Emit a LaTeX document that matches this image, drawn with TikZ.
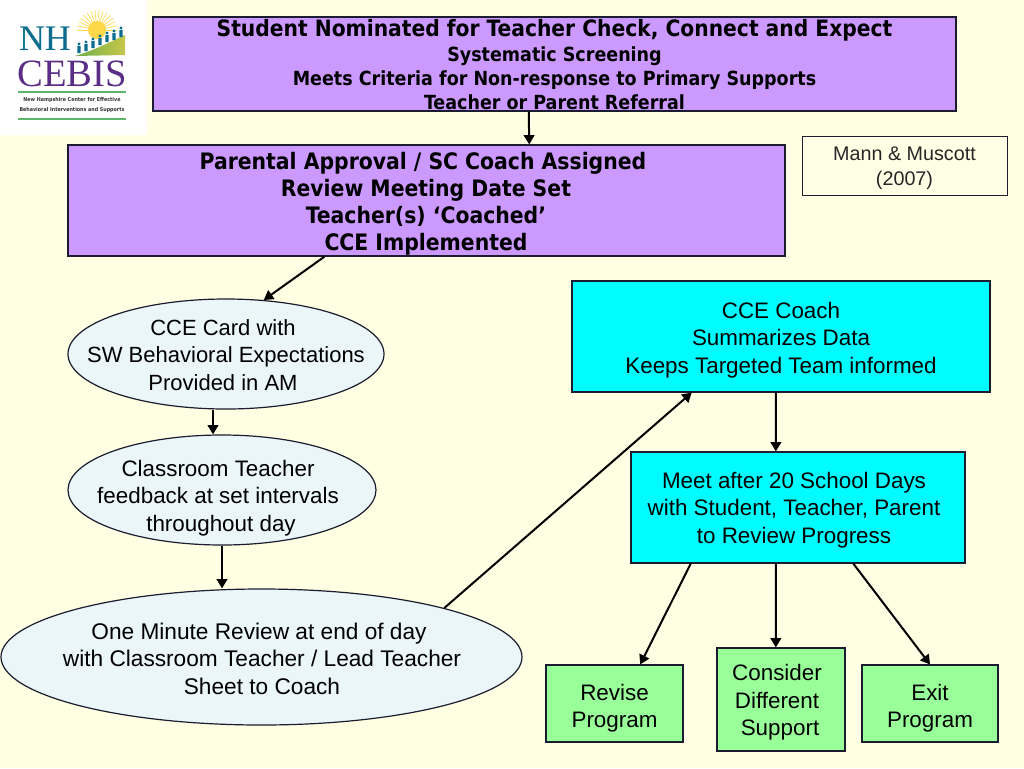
\documentclass[tikz,border=0pt]{standalone}
\usepackage{fontspec}
\setmainfont{Liberation Sans}
\newfontfamily\boldface{DejaVu Sans Condensed}
\newfontfamily\logoserif{Liberation Serif}
\usetikzlibrary{calc,shapes.geometric,arrows.meta}
\definecolor{bgc}{HTML}{FFFFE3}
\definecolor{purp}{HTML}{CC99FF}
\definecolor{cyanb}{HTML}{00FCFF}
\definecolor{greenb}{HTML}{99FF99}
\definecolor{ellc}{HTML}{EAF6F8}
\definecolor{edgec}{HTML}{1C1C30}
\definecolor{logoblue}{HTML}{0B6C8E}
\definecolor{logopurple}{HTML}{5A2D86}
\definecolor{logogreen}{HTML}{5DB46A}
\definecolor{sunc}{HTML}{FFD84A}
\definecolor{hillc}{HTML}{6FAE4A}
\newcommand{\padsp}{\hspace*{4.5pt}}
\tikzset{
  x=0.75pt,y=-0.75pt,
  bx/.style args={#1/#2}{draw=edgec,line width=0.9pt,rectangle,inner sep=0pt,minimum width=#1*0.75pt,minimum height=#2*0.75pt},
  el/.style args={#1/#2}{draw=edgec,line width=0.9pt,ellipse,inner sep=0pt,fill=ellc,minimum width=#1*0.75pt,minimum height=#2*0.75pt},
  body/.style={font=\fontsize{16.8}{20.6}\selectfont,align=center,inner sep=0pt,text=black},
  head/.style={font=\boldface\bfseries\fontsize{17}{20.3}\selectfont,align=center,inner sep=0pt,text=black},
  subh/.style={font=\boldface\bfseries\fontsize{14.6}{18}\selectfont,align=center,inner sep=0pt,text=black},
  arr/.style={draw=black,line width=1.5pt,-{Triangle[length=7pt,width=8pt]}},
}
\begin{document}
\begin{tikzpicture}
\useasboundingbox (0,0) rectangle (1024,768);
\fill[bgc] (0,0) rectangle (1024,768);
% logo
\fill[white] (0,0) rectangle (147,135);
\foreach \a in {0,12,...,180}{\draw[sunc,line width=0.5pt] (97,30) -- ++({\a}:-20);}
\fill[sunc] (97,30) circle (9);
\shade[left color=hillc,right color=hillc!40!sunc] (75,56) .. controls (95,50) and (110,42) .. (125,35) -- (125,55) -- cycle;
\foreach \px/\py in {79/44,86/42,93/39,100/36,107/33,114/31,121/28}{\fill[logoblue] (\px,\py) circle (1.7) (\px-1.6,\py+2) rectangle (\px+1.6,\py+9);}
\node[text=logoblue,font=\logoserif\fontsize{27}{27}\selectfont,inner sep=0pt] (logoNH) at (45,39) {NH};
\node[text=logopurple,font=\logoserif\fontsize{29}{29}\selectfont,inner sep=0pt] (logoCEBIS) at (72,74) {CEBIS};
\fill[logogreen] (18,90.5) rectangle (126,92.5);
\node[font=\boldface\bfseries\fontsize{4}{7.5}\selectfont,align=center,inner sep=0pt,text=black!80] (logoT) at (72,105) {New Hampshire Center for Effective\\Behavioral Interventions and Supports};
\fill[logogreen] (18,117.5) rectangle (126,119.5);
% boxes
\node[bx=803/94,fill=purp] (b1) at (554.5,64) {};
\node[head,font=\boldface\bfseries\fontsize{16.9}{20}\selectfont] (b1a) at (554.5,30) {Student Nominated for Teacher Check, Connect and Expect};
\node[subh] (b1b) at (554.5,78) {Systematic Screening\\Meets Criteria for Non-response to Primary Supports\\Teacher or Parent Referral};
\node[bx=717/111,fill=purp] (b2) at (426.5,200.5) {};
\node[head] (b2t) at (426,204) {Parental Approval / SC Coach Assigned\padsp\\Review Meeting Date Set\\Teacher(s) ‘Coached’\padsp\\CCE Implemented};
\node[bx=205/59,fill=bgc!90!white,line width=0.7pt] (mann) at (904.5,165.5) {};
\node[font=\fontsize{14.8}{18.75}\selectfont,align=center,inner sep=0pt,text=black!85] (mannt) at (904.5,168) {Mann \& Muscott\\(2007)};
\node[el=316/110] (e1) at (226,354) {};
\node[body,font=\fontsize{16.5}{20.6}\selectfont] (e1t) at (226,355) {CCE Card with\padsp\\SW Behavioral Expectations\\Provided in AM\padsp};
\node[el=308/110] (e2) at (222,490) {};
\node[body] (e2t) at (218,498) {Classroom Teacher\\feedback at set intervals\\\padsp throughout day};
\node[el=521/136] (e3) at (261.5,657) {};
\node[body,font=\fontsize{17}{20.6}\selectfont] (e3t) at (262,658.5) {One Minute Review at end of day\padsp\\with Classroom Teacher / Lead Teacher\\Sheet to Coach};
\node[bx=418/111,fill=cyanb] (c1) at (781,336.5) {};
\node[body] (c1t) at (781,340) {CCE Coach\\Summarizes Data\padsp\\Keeps Targeted Team informed};
\node[bx=334/111,fill=cyanb] (c2) at (798,507.5) {};
\node[body] (c2t) at (794,510) {Meet after 20 School Days\\with Student, Teacher, Parent\\to Review Progress};
\node[bx=137/77,fill=greenb] (g1) at (614.5,703.5) {};
\node[body] (g1t) at (614.5,708) {Revise\\Program};
\node[bx=128/103,fill=greenb] (g2) at (781,699.5) {};
\node[body] (g2t) at (777,702.5) {Consider\\Different\\\padsp Support};
\node[bx=136/77,fill=greenb] (g3) at (930,703.5) {};
\node[body] (g3t) at (930,708) {Exit\\Program};
% connectors
\draw[arr] ($(b1.south west)!0.468!(b1.south east)$) -- ($(b2.north west)!0.643!(b2.north east)$);
\draw[arr] ($(b2.south west)!0.358!(b2.south east)$) -- (e1.55);
\draw[arr] ($(e1.south)+(-13,0)$) -- ($(e2.north)+(-9,0)$);
\draw[arr] (e2.south) -- (e3.north -| e2.south);
\draw[arr] (e3.15) -- ($(c1.south west)!0.287!(c1.south east)$);
\draw[arr] ($(c1.south west)!0.488!(c1.south east)$) -- ($(c2.north west)!0.434!(c2.north east)$);
\draw[arr] ($(c2.south west)!0.18!(c2.south east)$) -- ($(g1.north west)!0.686!(g1.north east)$);
\draw[arr] ($(c2.south west)!0.434!(c2.south east)$) -- ($(g2.north west)!0.46!(g2.north east)$);
\draw[arr] ($(c2.south west)!0.665!(c2.south east)$) -- (g3.north);
\end{tikzpicture}
\end{document}
